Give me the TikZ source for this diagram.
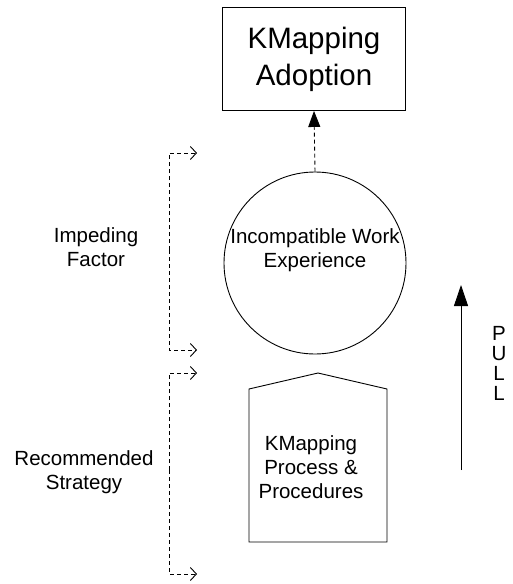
\documentclass[tikz,border=0pt]{standalone}
\usepackage{fontspec}
\setmainfont{Liberation Sans}
\usetikzlibrary{arrows.meta}
\begin{document}
\begin{tikzpicture}[x=1pt,y=-1pt,line width=0.9pt,
   dashline/.style={dash pattern=on 4pt off 3pt},
   barb/.style={-{Straight Barb[length=6pt,width=13pt,line width=0.9pt]}},
   lbl/.style={font=\fontsize{20.5}{24}\selectfont,align=center,inner sep=0pt}]
   		\useasboundingbox (0,0) rectangle (512,584);
   		
   		% Goal box
   		\node[draw,minimum width=183pt,minimum height=103pt,inner sep=0pt,align=center,
   		      font=\fontsize{29.5}{37}\selectfont] (adopt) at (314,59) {KMapping\\Adoption};
   		
   		% Impeding factor circle
   		\node[draw,circle,minimum size=182pt,inner sep=0pt] (incompat) at (315,263) {};
   		\node[lbl] (incompattext) at (315,250) {Incompatible Work\\Experience};
   		\draw[dashline,-{Triangle[length=16pt,width=12pt]}] (incompat.north) -- (adopt.south);
   		
   		% Strategy shape
   		\draw (249,542) -- (249,389) -- (318,373) -- (387,389) -- (387,542) -- cycle;
   		\node[lbl] (strategy) at (311,467) {KMapping\\Process \&\\Procedures};
   		
   		% Brackets
   		\coordinate (b1top) at (197,153);
   		\coordinate (b1bot) at (197,350);
   		\coordinate (b2top) at (197,373);
   		\coordinate (b2bot) at (197,574);
   		\draw[dashline,barb] (169,250) |- (b1top);
   		\draw[dashline,barb] (169,250) |- (b1bot);
   		\draw[dashline,barb] (169,470) |- (b2top);
   		\draw[dashline,barb] (169,470) |- (b2bot);
   		\node[lbl] (impeding) at (96,247) {Impeding\\Factor};
   		\node[lbl] (recommended) at (84,472) {Recommended\\Strategy};
   		
   		% Pull arrow
   		\coordinate (pullbot) at (461,470);
   		\coordinate (pulltop) at (461,285);
   		\draw[-{Triangle[length=21pt,width=14pt]}] (pullbot) -- (pulltop);
   		\node[lbl,font=\fontsize{20.5}{20}\selectfont] (pull) at (499,363) {P\\U\\L\\L};
   		
   	\end{tikzpicture}
\end{document}
